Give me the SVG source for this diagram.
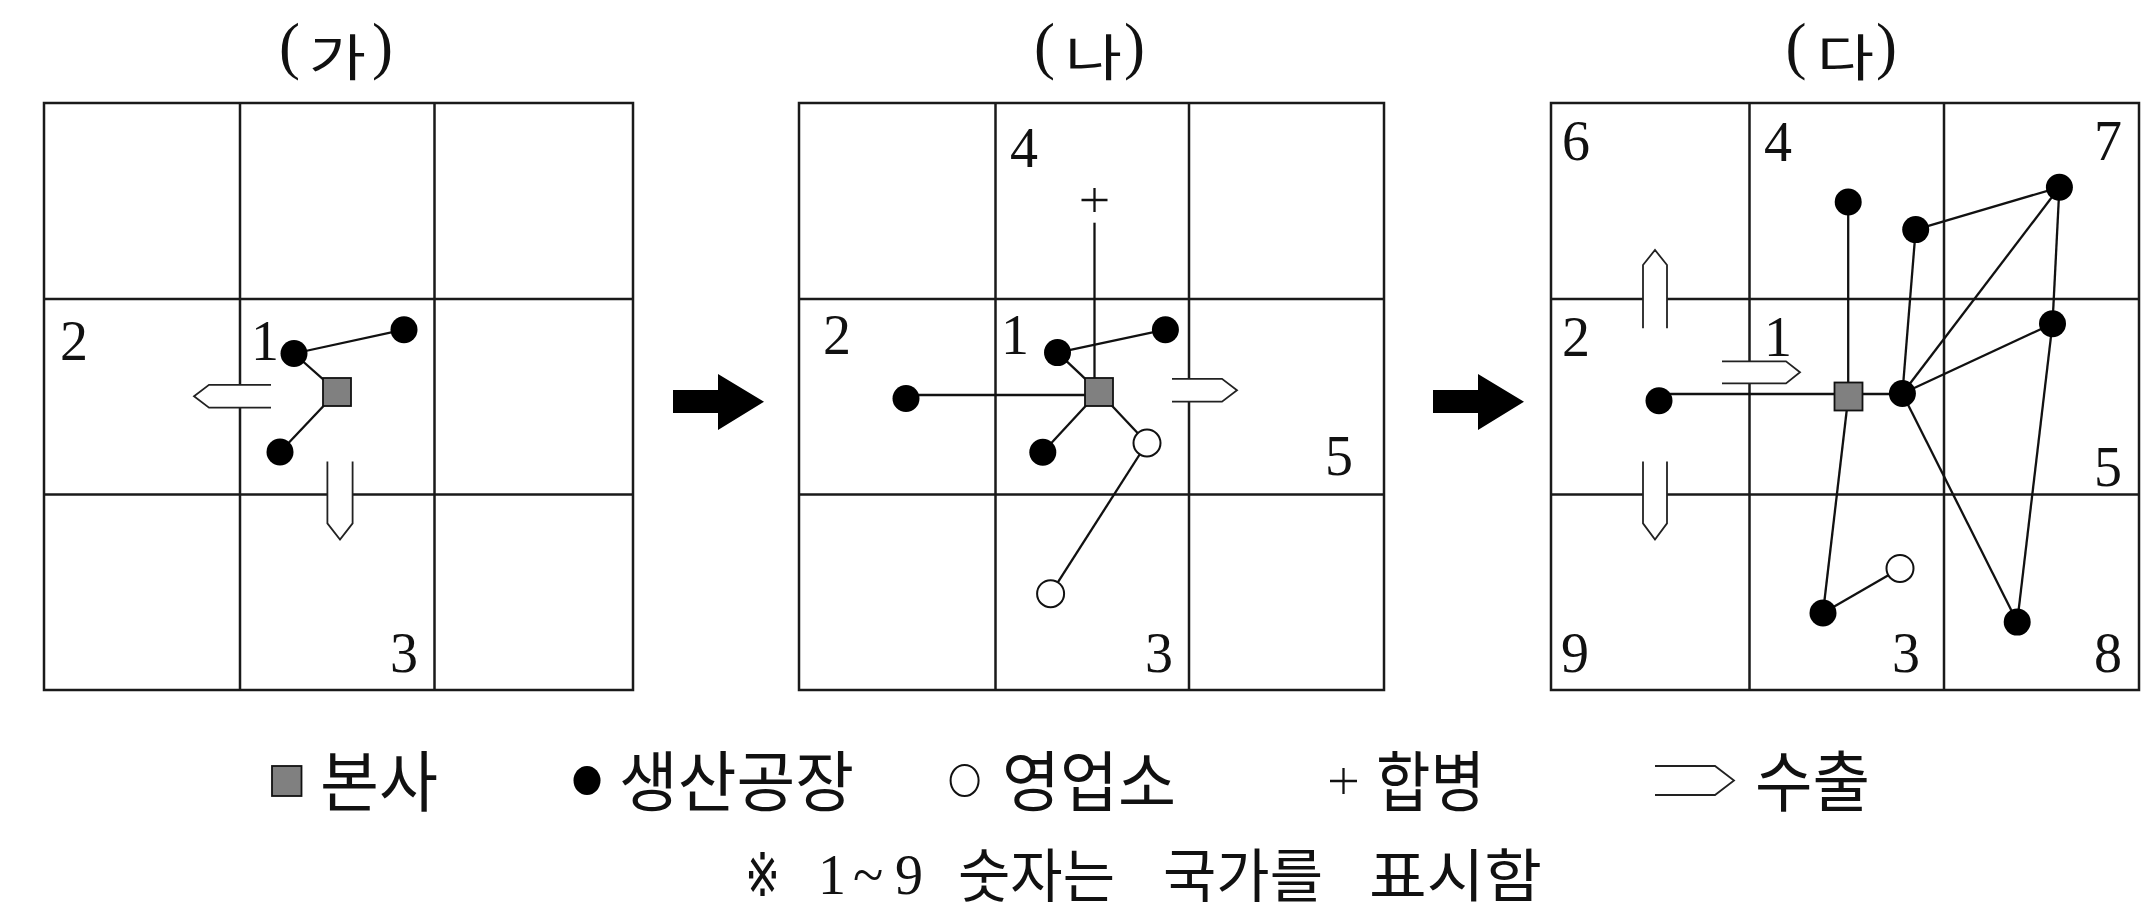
<svg xmlns="http://www.w3.org/2000/svg" width="2155" height="919" viewBox="0 0 2155 919">
<style>
.grid{fill:none;stroke:#1a1a1a;stroke-width:2.5}
.ln{stroke:#111;stroke-width:2.3;fill:none}
.dot{fill:#000}
.open{fill:#fff;stroke:#111;stroke-width:2}
.hq{fill:#808080;stroke:#111;stroke-width:1.8}
.exp{fill:#fff;stroke:#222;stroke-width:1.8;stroke-linejoin:miter}
.num{font-family:"Liberation Serif",serif;font-size:56px;fill:#111}
.par{font-family:"Liberation Serif",serif;font-size:63px;fill:#111}
.ttl{font-family:"Noto Sans CJK KR",sans-serif;font-size:50px;fill:#111}
.leg{font-family:"Noto Sans CJK KR",sans-serif;font-size:66px;fill:#111}
.note{font-family:"Noto Sans CJK KR",sans-serif;font-size:58px;fill:#111}
.blk{fill:#000}
</style>
<rect width="2155" height="919" fill="#fff"/>

<!-- titles -->
<g id="title-ga">
<text class="par" x="279" y="67">(</text>
<text class="ttl" x="309" y="75.5" textLength="57" lengthAdjust="spacingAndGlyphs">가</text>
<text class="par" x="372" y="67">)</text>
</g>
<g id="title-na">
<text class="par" x="1034" y="67">(</text>
<text class="ttl" x="1065" y="75.5" textLength="57" lengthAdjust="spacingAndGlyphs">나</text>
<text class="par" x="1124" y="67">)</text>
</g>
<g id="title-da">
<text class="par" x="1785.5" y="67">(</text>
<text class="ttl" x="1817" y="75.5" textLength="57" lengthAdjust="spacingAndGlyphs">다</text>
<text class="par" x="1876" y="67">)</text>
</g>

<!-- grids -->
<g id="grid-a" class="grid">
<rect x="44" y="103" width="589" height="587"/>
<path d="M240 103V690M434.5 103V690M44 299H633M44 494.5H633"/>
</g>
<g id="grid-b" class="grid">
<rect x="799" y="103" width="585" height="587"/>
<path d="M995.5 103V690M1189 103V690M799 299H1384M799 494.5H1384"/>
</g>
<g id="grid-c" class="grid">
<rect x="1551" y="103" width="588" height="587"/>
<path d="M1749.5 103V690M1944 103V690M1551 299H2139M1551 494.5H2139"/>
</g>

<!-- country numbers -->
<g id="nums-a">
<text class="num" x="60" y="360">2</text>
<text class="num" x="251" y="360">1</text>
<text class="num" x="390" y="672">3</text>
</g>
<g id="nums-b">
<text class="num" x="1010" y="167">4</text>
<text class="num" x="823" y="354">2</text>
<text class="num" x="1001" y="354">1</text>
<text class="num" x="1325" y="475">5</text>
<text class="num" x="1145" y="672">3</text>
</g>
<g id="nums-c">
<text class="num" x="1562" y="160">6</text>
<text class="num" x="1764" y="161">4</text>
<text class="num" x="2094" y="160">7</text>
<text class="num" x="1562" y="356">2</text>
<text class="num" x="1764" y="356">1</text>
<text class="num" x="2094" y="486">5</text>
<text class="num" x="1561" y="672">9</text>
<text class="num" x="1892" y="672">3</text>
<text class="num" x="2094" y="672">8</text>
</g>

<!-- connectors -->
<g id="connectors" class="ln">
<!-- (가) -->
<line x1="294" y1="353.5" x2="404" y2="329.7"/>
<line x1="294" y1="353.5" x2="337" y2="391.7"/>
<line x1="337" y1="391.7" x2="280" y2="452"/>
<!-- (나) -->
<line x1="1094.5" y1="222.7" x2="1094.5" y2="380"/>
<line x1="906" y1="395" x2="1086" y2="395"/>
<line x1="1057.5" y1="352.6" x2="1165.4" y2="329.7"/>
<line x1="1057.5" y1="352.6" x2="1098.8" y2="391.7"/>
<line x1="1098.8" y1="391.7" x2="1042.8" y2="452.2"/>
<line x1="1098.8" y1="391.7" x2="1147" y2="443"/>
<line x1="1147" y1="443" x2="1050.6" y2="593.7"/>
<!-- (다) -->
<line x1="1848.2" y1="202" x2="1848.2" y2="384"/>
<line x1="1659" y1="394" x2="1902.4" y2="394"/>
<line x1="1902.4" y1="393.5" x2="1915.7" y2="229.6"/>
<line x1="1915.7" y1="229.6" x2="2059.4" y2="187.3"/>
<line x1="2059.4" y1="187.3" x2="1902.4" y2="393.5"/>
<line x1="2059.4" y1="187.3" x2="2052.5" y2="323.7"/>
<line x1="2052.5" y1="323.7" x2="1902.4" y2="393.5"/>
<line x1="1902.4" y1="393.5" x2="2017.2" y2="622.1"/>
<line x1="2052.5" y1="323.7" x2="2017.2" y2="622.1"/>
<line x1="1847" y1="408" x2="1823" y2="613"/>
<line x1="1823" y1="613" x2="1900" y2="568.4"/>
</g>

<!-- nodes (가) -->
<g id="a-hq"><rect class="hq" x="323" y="378" width="28" height="28"/></g>
<g id="a-factory-1"><circle class="dot" cx="294" cy="353.5" r="13.5"/></g>
<g id="a-factory-2"><circle class="dot" cx="404" cy="329.7" r="13.5"/></g>
<g id="a-factory-3"><circle class="dot" cx="280" cy="452" r="13.5"/></g>
<g id="a-export-left"><path class="exp" d="M271 384.8H209L194 396.2L209 407.7H271"/></g>
<g id="a-export-down"><path class="exp" d="M327.4 461.4V523.4L340 539.5L352.6 523.4V461.4"/></g>

<!-- nodes (나) -->
<g id="b-merger"><path class="ln" d="M1081.5 200H1107.5M1094.5 188V212"/></g>
<g id="b-hq"><rect class="hq" x="1085" y="378" width="28" height="28"/></g>
<g id="b-factory-1"><circle class="dot" cx="1057.5" cy="352.6" r="13.5"/></g>
<g id="b-factory-2"><circle class="dot" cx="1165.4" cy="329.7" r="13.5"/></g>
<g id="b-factory-3"><circle class="dot" cx="1042.8" cy="452.2" r="13.5"/></g>
<g id="b-factory-4"><circle class="dot" cx="906" cy="398.5" r="13.5"/></g>
<g id="b-sales-1"><circle class="open" cx="1147" cy="443" r="13.5"/></g>
<g id="b-sales-2"><circle class="open" cx="1050.6" cy="593.7" r="13.5"/></g>
<g id="b-export-right"><path class="exp" d="M1172 378.8H1222L1237 390.2L1222 401.7H1172"/></g>

<!-- nodes (다) -->
<g id="c-hq"><rect class="hq" x="1834.5" y="382.5" width="28" height="28"/></g>
<g id="c-factory-4"><circle class="dot" cx="1848.2" cy="202" r="13.5"/></g>
<g id="c-factory-b"><circle class="dot" cx="1915.7" cy="229.6" r="13.5"/></g>
<g id="c-factory-7"><circle class="dot" cx="2059.4" cy="187.3" r="13.5"/></g>
<g id="c-factory-5"><circle class="dot" cx="2052.5" cy="323.7" r="13.5"/></g>
<g id="c-factory-1"><circle class="dot" cx="1902.4" cy="393.5" r="13.5"/></g>
<g id="c-factory-2"><circle class="dot" cx="1659" cy="400.8" r="13.5"/></g>
<g id="c-factory-3"><circle class="dot" cx="1823" cy="613" r="13.5"/></g>
<g id="c-factory-8"><circle class="dot" cx="2017.2" cy="622.1" r="13.5"/></g>
<g id="c-sales-3"><circle class="open" cx="1900" cy="568.4" r="13.5"/></g>
<g id="c-export-up"><path class="exp" d="M1643 328.3V265L1655 250L1667 265V328.3"/></g>
<g id="c-export-right"><path class="exp" d="M1722 361.3H1786L1800 372.3L1786 383.4H1722"/></g>
<g id="c-export-down"><path class="exp" d="M1643 461.4V523.4L1655 539.5L1667 523.4V461.4"/></g>

<!-- stage arrows -->
<g id="stage-arrow-1"><polygon class="blk" points="673,390 718,390 718,374 764,401.7 718,430 718,413 673,413"/></g>
<g id="stage-arrow-2"><polygon class="blk" points="1433,390 1478,390 1478,374 1524,401.7 1478,430 1478,413 1433,413"/></g>

<!-- legend -->
<g id="legend-hq">
<rect class="hq" x="272" y="766" width="29.5" height="30"/>
<text class="leg" x="320" y="806" textLength="118" lengthAdjust="spacingAndGlyphs">본사</text>
</g>
<g id="legend-factory">
<ellipse class="dot" cx="587" cy="780.5" rx="13.5" ry="14.5"/>
<text class="leg" x="619" y="806" textLength="235" lengthAdjust="spacingAndGlyphs">생산공장</text>
</g>
<g id="legend-sales">
<ellipse class="open" cx="964.6" cy="780.5" rx="14" ry="15.5"/>
<text class="leg" x="1002" y="806" textLength="174" lengthAdjust="spacingAndGlyphs">영업소</text>
</g>
<g id="legend-merger">
<path class="ln" d="M1330 781H1357M1343.5 768V794"/>
<text class="leg" x="1376" y="806" textLength="109" lengthAdjust="spacingAndGlyphs">합병</text>
</g>
<g id="legend-export">
<path class="exp" d="M1655 766H1715L1734 780.5L1715 795H1655"/>
<text class="leg" x="1755" y="806" textLength="115" lengthAdjust="spacingAndGlyphs">수출</text>
</g>

<!-- footnote -->
<g id="footnote">
<text x="745" y="896" font-family="DejaVu Sans, sans-serif" font-size="60" fill="#111" textLength="35" lengthAdjust="spacingAndGlyphs">※</text>
<text class="num" x="818" y="894" font-size="62">1</text>
<text class="num" x="853" y="894" font-size="62">~</text>
<text class="num" x="895" y="894" font-size="62">9</text>
<text class="note" x="958" y="897" textLength="157" lengthAdjust="spacingAndGlyphs">숫자는</text>
<text class="note" x="1163" y="897" textLength="160" lengthAdjust="spacingAndGlyphs">국가를</text>
<text class="note" x="1369" y="897" textLength="173" lengthAdjust="spacingAndGlyphs">표시함</text>
</g>
</svg>
